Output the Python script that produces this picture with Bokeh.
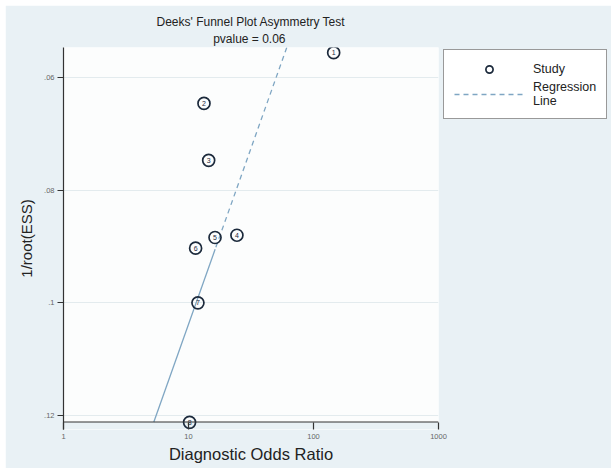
import numpy as np
from bokeh.plotting import figure
from bokeh.models import (Range1d, FixedTicker, Span, BoxAnnotation, Title,
                          Legend, LegendItem, ColumnDataSource)
from bokeh.core.properties import value
from bokeh.embed import file_html
from bokeh.resources import INLINE

# ---- data ----
study_ids = ["1", "2", "3", "4", "5", "6", "7", "8"]
dor = [145, 13.3, 14.5, 24.4, 16.3, 11.4, 11.9, 10.2]
inv_root_ess = [0.0556, 0.0646, 0.0747, 0.0880, 0.0884, 0.0903, 0.1000, 0.1212]

reg_intercept = 2.661   # log10(DOR) at 1/root(ESS) = 0
reg_slope = -16.0       # change of log10(DOR) per unit of 1/root(ESS)
reg_split = 0.0905      # solid below this value, dashed above

x_ticks = [1, 10, 100, 1000]
x_tick_labels = ["1", "10", "100", "1000"]
y_ticks = [0.06, 0.08, 0.10, 0.12]
y_tick_labels = [".06", ".08", ".1", ".12"]

title_text = "Deeks' Funnel Plot Asymmetry Test"
pvalue = 0.06

# ---- style ----
FONT = "Liberation Sans"
BG = "#e9f1f5"
PLOT_BG = "#fcfdfd"
LINE_C = "#7fa6c3"
MARK_C = "#1c2a3c"
AXIS_C = "#333333"

y_top, y_axis, y_bottom = 0.05468, 0.12115, 0.12248

p = figure(frame_width=375, frame_height=382, x_axis_type="log",
           x_range=Range1d(1, 1000), y_range=Range1d(y_bottom, y_top),
           output_backend="svg", toolbar_location=None,
           min_border_left=58, min_border_right=168,
           min_border_top=42, min_border_bottom=39)
p.margin = (5, 5, 5, 5)
p.background_fill_color = PLOT_BG
p.border_fill_color = BG
p.outline_line_color = None
p.xgrid.visible = False
p.ygrid.grid_line_color = "#e3ebee"
p.ygrid.ticker = FixedTicker(ticks=y_ticks)

# strip below the drawn x-axis line (so the bottom marker is not clipped)
p.add_layout(BoxAnnotation(top=y_axis, bottom=y_bottom, fill_color=BG,
                           fill_alpha=1, line_color=None, level="underlay"))

# regression line
ys_dash = np.linspace(y_top, reg_split, 2)
ys_solid = np.linspace(reg_split, y_axis, 2)
dash_r = p.line(10 ** (reg_intercept + reg_slope * ys_dash), ys_dash,
                line_color=LINE_C, line_width=1.3, line_dash="5 4")
p.line(10 ** (reg_intercept + reg_slope * ys_solid), ys_solid,
       line_color=LINE_C, line_width=1.3)

src = ColumnDataSource(dict(x=dor, y=inv_root_ess, lab=study_ids))
pts = p.scatter("x", "y", source=src, size=12, marker="circle",
                fill_color="white", fill_alpha=0.0, line_color=MARK_C, line_width=1.7)
p.text("x", "y", text="lab", source=src, text_align="center",
       text_baseline="middle", text_font_size="7px", text_color=MARK_C,
       text_font=value(FONT))

# x axis line drawn at the .1212 level
p.add_layout(Span(location=y_axis, dimension="width", line_color=AXIS_C, line_width=1.2))

# axes
xa = p.xaxis[0]
xa.ticker = FixedTicker(ticks=x_ticks)
xa.major_label_overrides = {t: l for t, l in zip(x_ticks, x_tick_labels)}
xa.axis_line_color = None
xa.major_tick_in = 7
xa.major_tick_out = 0
xa.major_tick_line_color = AXIS_C
xa.major_tick_line_width = 1.2
xa.minor_tick_line_color = None
xa.major_label_text_font_size = "7.5px"
xa.major_label_text_color = "#666666"
xa.major_label_text_font = FONT
xa.major_label_standoff = 4
xa.axis_label = "Diagnostic Odds Ratio"
xa.axis_label_text_font = FONT
xa.axis_label_text_font_style = "normal"
xa.axis_label_text_font_size = "16.5px"
xa.axis_label_text_color = "#222222"
xa.axis_label_standoff = 3

ya = p.yaxis[0]
ya.ticker = FixedTicker(ticks=y_ticks)
ya.major_label_overrides = {t: l for t, l in zip(y_ticks, y_tick_labels)}
ya.axis_line_color = AXIS_C
ya.axis_line_width = 1.2
ya.major_tick_in = 0
ya.major_tick_out = 6
ya.major_tick_line_color = AXIS_C
ya.major_tick_line_width = 1.2
ya.minor_tick_line_color = None
ya.major_label_text_font_size = "7.5px"
ya.major_label_text_color = "#666666"
ya.major_label_text_font = FONT
ya.major_label_standoff = 3
ya.axis_label = "1/root(ESS)"
ya.axis_label_text_font = FONT
ya.axis_label_text_font_style = "normal"
ya.axis_label_text_font_size = "15px"
ya.axis_label_text_color = "#222222"
ya.axis_label_standoff = 6

# title: main line on top, p-value line next to the frame
p.title.text = title_text
p.title.align = "center"
p.title.text_font = FONT
p.title.text_font_size = "12px"
p.title.text_font_style = "normal"
p.title.text_color = "#222222"
p.title.standoff = 0
p.add_layout(Title(text=f"pvalue =  {pvalue:.2f}", align="center", text_font=FONT,
                   text_font_size="12px", text_font_style="normal",
                   text_color="#222222", standoff=3), "above")

legend = Legend(items=[LegendItem(label="Study", renderers=[pts]),
                       LegendItem(label="Regression\nLine", renderers=[dash_r])],
                location=(5, 310), padding=10, spacing=2, glyph_width=70,
                glyph_height=18, label_standoff=9,
                label_text_font=FONT, label_text_font_size="12.5px",
                label_text_color="#222222", label_height=13,
                border_line_color=AXIS_C, border_line_width=1.2,
                background_fill_color="white", background_fill_alpha=1)
p.add_layout(legend, "right")

open("out.html", "w").write(file_html(p, INLINE))
